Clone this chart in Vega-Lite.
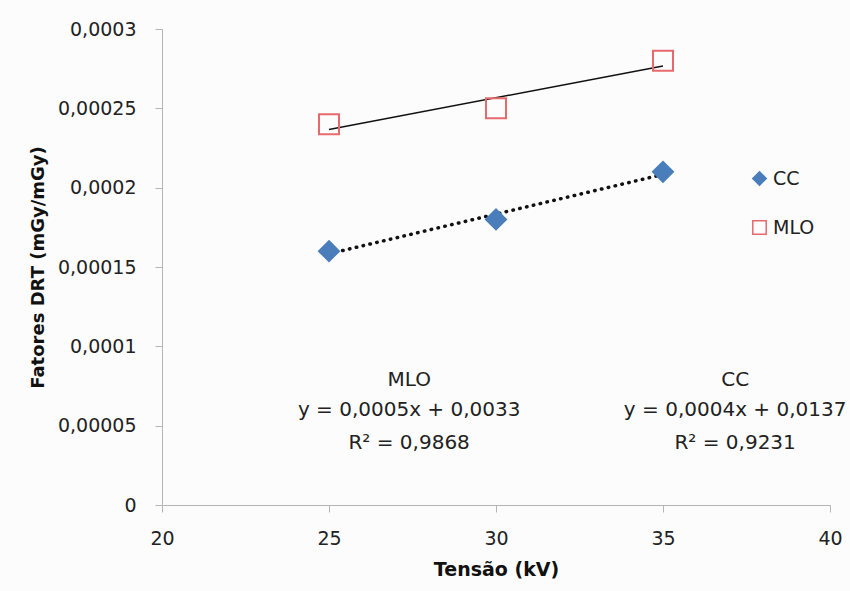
{
  "$schema": "https://vega.github.io/schema/vega-lite/v6.json",
  "width": 668,
  "height": 476,
  "autosize": {"type": "none"},
  "padding": {"left": 162, "top": 29, "right": 20, "bottom": 86},
  "background": "#fcfcfc",
  "config": {
    "view": {"stroke": null},
    "font": "DejaVu Sans",
    "axis": {"grid": false, "domainColor": "#b5b5b5", "tickColor": "#b5b5b5", "tickSize": 7, "labelFont": "DejaVu Sans", "labelFontSize": 19, "labelColor": "#222", "titleFont": "DejaVu Sans", "titleFontSize": 18, "titleFontWeight": "bold", "titleColor": "#111", "labelFlush": false},
    "legend": {"labelFont": "DejaVu Sans", "labelFontSize": 19, "labelColor": "#222"}
  },
  "datasets": {
    "pts": [
      {"tensao": 25, "fator": 0.00016, "serie": "CC"},
      {"tensao": 30, "fator": 0.00018, "serie": "CC"},
      {"tensao": 35, "fator": 0.00021, "serie": "CC"},
      {"tensao": 25, "fator": 0.00024, "serie": "MLO"},
      {"tensao": 30, "fator": 0.00025, "serie": "MLO"},
      {"tensao": 35, "fator": 0.00028, "serie": "MLO"}
    ],
    "notes": [
      {"tx": 27.4, "ty": 0.0000788, "label": "MLO"},
      {"tx": 27.4, "ty": 0.0000599, "label": "y = 0,0005x + 0,0033"},
      {"tx": 27.4, "ty": 0.0000391, "label": "R² = 0,9868"},
      {"tx": 37.16, "ty": 0.0000788, "label": "CC"},
      {"tx": 37.16, "ty": 0.0000599, "label": "y = 0,0004x + 0,0137"},
      {"tx": 37.16, "ty": 0.0000391, "label": "R² = 0,9231"}
    ]
  },
  "layer": [
    {
      "data": {"name": "pts"},
      "transform": [
        {"filter": "datum.serie === 'MLO'"},
        {"regression": "fator", "on": "tensao", "groupby": ["serie"], "extent": [25, 35]}
      ],
      "mark": {"type": "line", "color": "#111", "strokeWidth": 1.5},
      "encoding": {
        "x": {"field": "tensao", "type": "quantitative"},
        "y": {"field": "fator", "type": "quantitative"}
      }
    },
    {
      "data": {"name": "pts"},
      "transform": [
        {"filter": "datum.serie === 'CC'"},
        {"regression": "fator", "on": "tensao", "groupby": ["serie"], "extent": [25, 35]}
      ],
      "mark": {"type": "line", "color": "#111", "strokeWidth": 3.5, "strokeDash": [0.5, 6.5], "strokeCap": "round"},
      "encoding": {
        "x": {"field": "tensao", "type": "quantitative"},
        "y": {"field": "fator", "type": "quantitative"}
      }
    },
    {
      "data": {"name": "pts"},
      "mark": {"type": "point", "size": 400, "strokeWidth": 2, "opacity": 1},
      "encoding": {
        "x": {
          "field": "tensao", "type": "quantitative",
          "scale": {"domain": [20, 40], "nice": false, "zero": false},
          "axis": {"values": [20, 25, 30, 35, 40], "title": "Tensão (kV)", "titleFontSize": 19, "labelPadding": 17, "titlePadding": 12}
        },
        "y": {
          "field": "fator", "type": "quantitative",
          "scale": {"domain": [0, 0.0003], "nice": false},
          "axis": {"values": [0, 0.00005, 0.0001, 0.00015, 0.0002, 0.00025, 0.0003], "labelExpr": "replace(toString(datum.value), '.', ',')", "title": "Fatores DRT (mGy/mGy)", "labelPadding": 19, "titlePadding": 10}
        },
        "shape": {"field": "serie", "type": "nominal", "scale": {"domain": ["CC", "MLO"], "range": ["diamond", "square"]}, "title": null},
        "fill": {"field": "serie", "type": "nominal", "scale": {"domain": ["CC", "MLO"], "range": ["#4a7ebb", "transparent"]}, "title": null},
        "stroke": {
          "field": "serie", "type": "nominal", "scale": {"domain": ["CC", "MLO"], "range": ["#4a7ebb", "#e8696b"]}, "title": null,
          "legend": {"orient": "none", "legendX": 588, "legendY": 140, "symbolSize": 180, "symbolStrokeWidth": 1.5, "rowPadding": 28, "labelOffset": 4}
        }
      }
    },
    {
      "data": {"name": "notes"},
      "mark": {"type": "text", "fontSize": 20, "color": "#222", "align": "center", "baseline": "middle", "font": "DejaVu Sans"},
      "encoding": {
        "x": {"field": "tx", "type": "quantitative"},
        "y": {"field": "ty", "type": "quantitative"},
        "text": {"field": "label", "type": "nominal"}
      }
    }
  ]
}
